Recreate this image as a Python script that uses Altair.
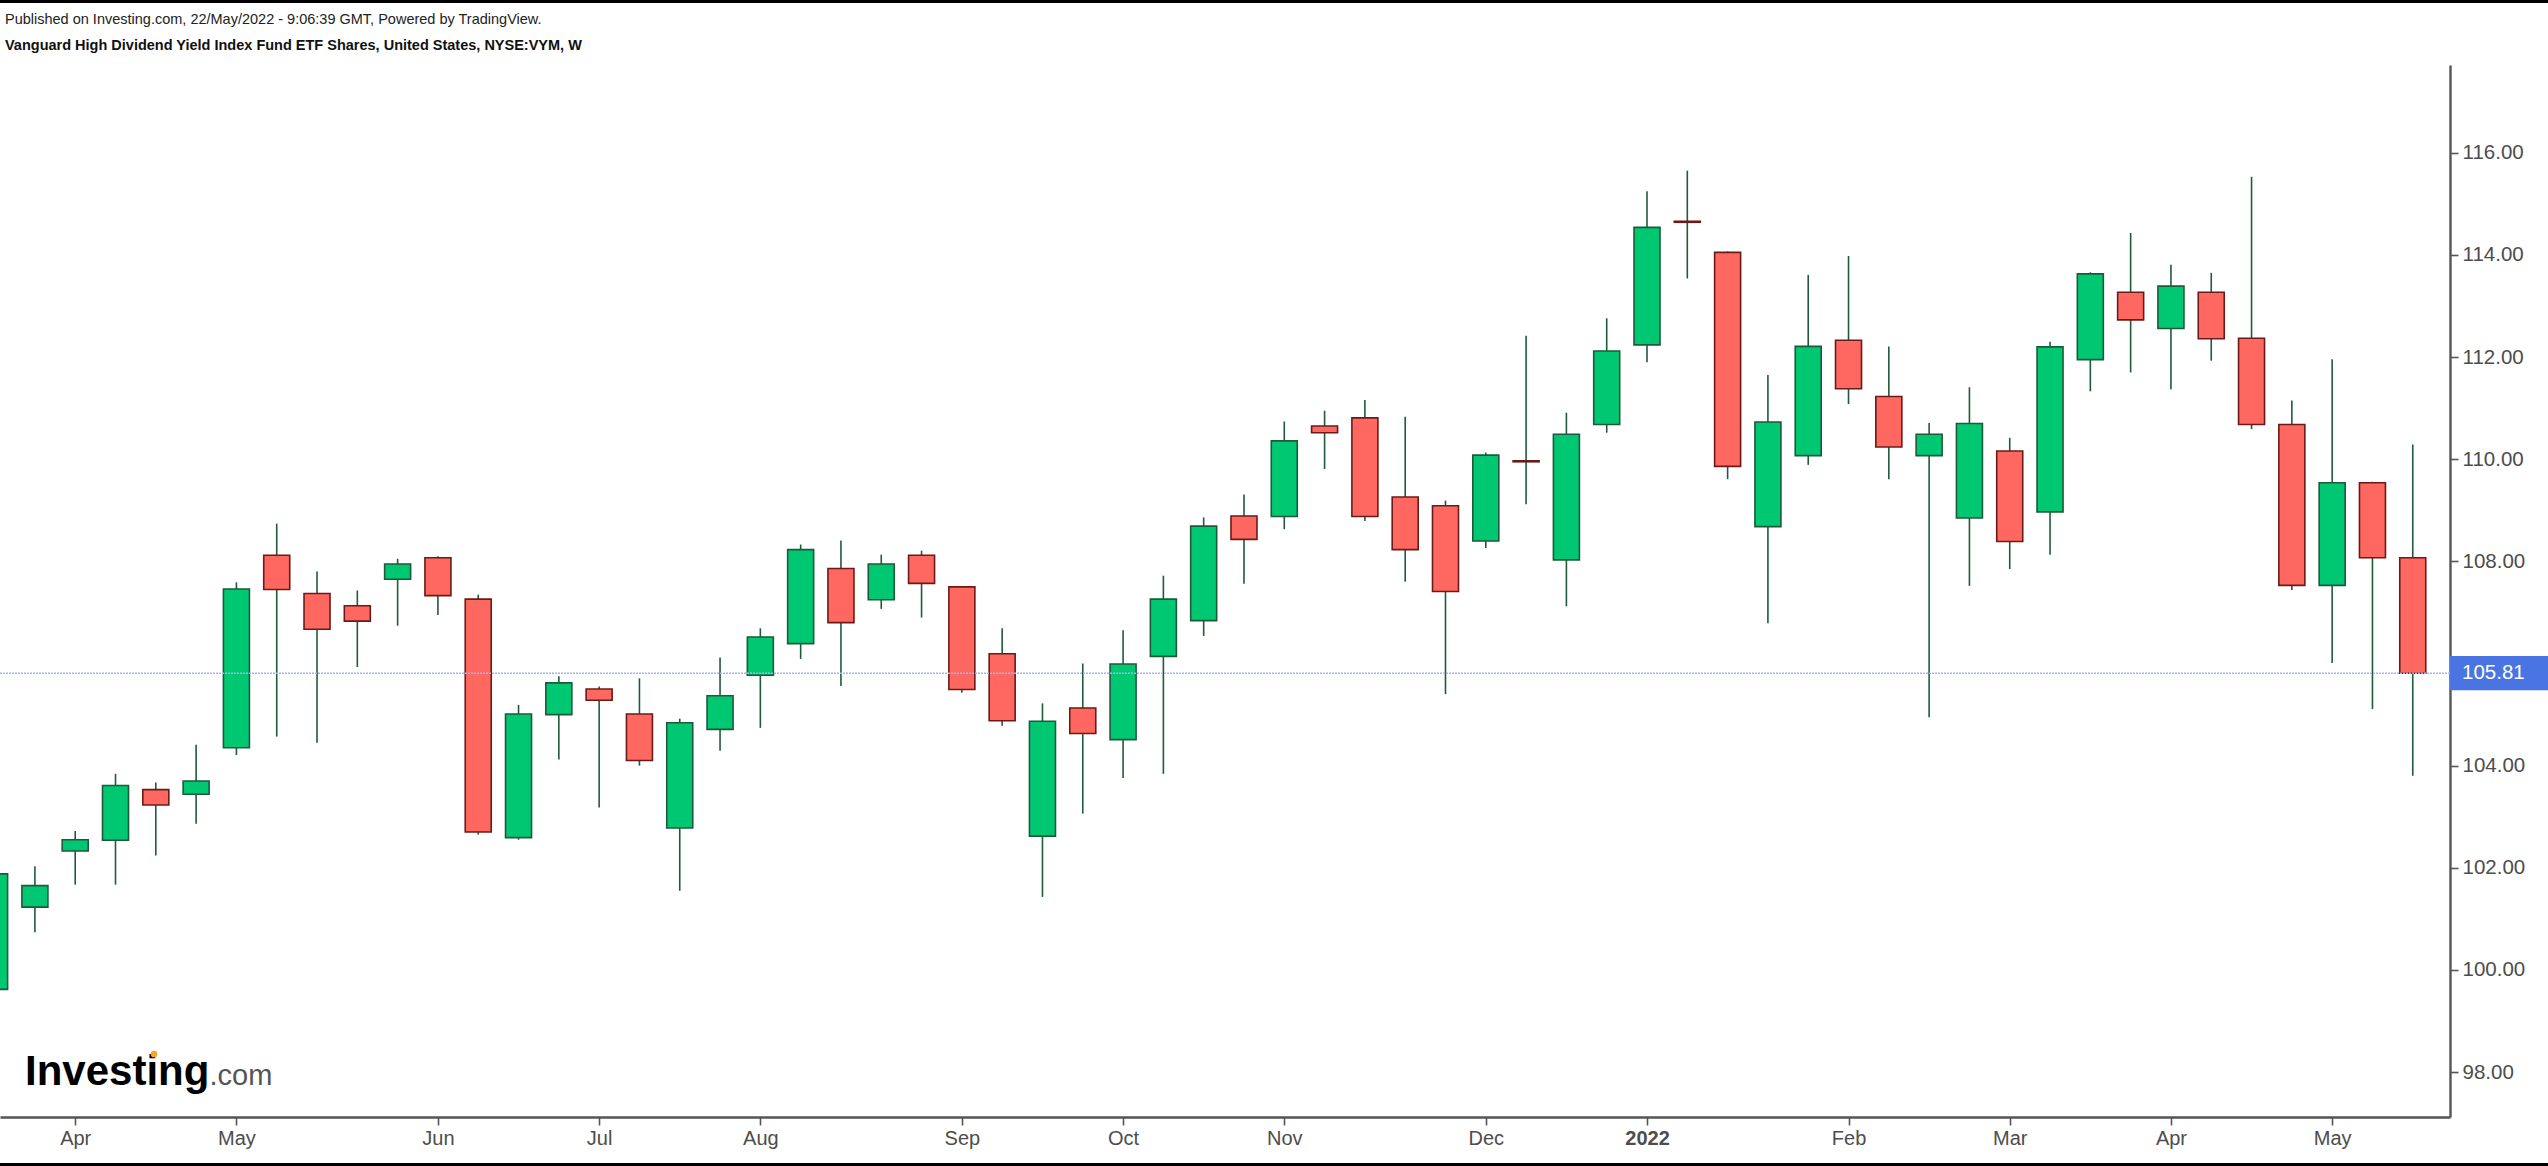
import altair as alt
import pandas as pd

# ---------------- data (weekly OHLC) ----------------
week_start = "2021-03-22"
opens = [99.62, 101.23, 102.33, 102.54, 103.53, 103.44, 104.35, 108.12, 107.37, 107.13,
         107.65, 108.07, 107.26, 102.59, 105.00, 105.50, 105.01, 102.78, 104.71, 105.77,
         106.39, 107.86, 107.25, 108.12, 107.50, 106.19, 102.62, 105.13, 104.51, 106.14,
         106.84, 108.89, 108.88, 110.65, 110.81, 109.26, 109.09, 108.40, 109.97, 108.03,
         110.68, 112.24, 114.66, 114.05, 108.68, 110.07, 112.33, 111.23, 110.07, 108.85,
         110.16, 108.97, 111.95, 113.27, 112.56, 113.27, 112.37, 110.68, 107.53, 109.54,
         108.07]
highs = [101.95, 102.03, 102.72, 103.84, 103.67, 104.41, 107.59, 108.74, 107.80, 107.43,
         108.05, 108.10, 107.35, 105.19, 105.75, 105.55, 105.71, 104.92, 106.12, 106.69,
         108.33, 108.41, 108.13, 108.21, 107.52, 106.69, 105.22, 106.00, 106.65, 107.72,
         108.86, 109.31, 110.74, 110.95, 111.16, 110.83, 109.19, 110.13, 112.42, 110.91,
         112.76, 115.25, 115.65, 114.07, 111.65, 113.61, 113.98, 112.21, 110.71, 111.41,
         110.42, 112.30, 113.66, 114.43, 113.81, 113.65, 115.53, 111.15, 111.96, 109.56,
         110.29]
lows = [99.55, 100.74, 101.67, 101.67, 102.24, 102.86, 104.21, 104.57, 104.45, 105.93,
        106.74, 106.95, 102.65, 102.55, 104.12, 103.18, 104.00, 101.55, 104.29, 104.74,
        106.09, 105.56, 107.07, 106.90, 105.43, 104.78, 101.43, 103.06, 103.76, 103.84,
        106.54, 107.56, 108.63, 109.81, 108.79, 107.60, 105.40, 108.26, 109.12, 107.12,
        110.52, 111.90, 113.54, 109.61, 106.79, 109.89, 111.08, 109.61, 104.95, 107.52,
        107.85, 108.13, 111.33, 111.70, 111.37, 111.93, 110.59, 107.44, 106.01, 105.11,
        103.80]
closes = [101.88, 101.65, 102.55, 103.61, 103.23, 103.70, 107.46, 107.45, 106.67, 106.83,
          107.95, 107.33, 102.70, 105.01, 105.62, 105.28, 104.10, 104.84, 105.37, 106.52,
          108.23, 106.80, 107.95, 107.57, 105.49, 104.88, 104.87, 104.63, 105.99, 107.26,
          108.69, 108.43, 110.36, 110.52, 108.88, 108.23, 107.41, 110.08, 109.95, 110.49,
          112.12, 114.54, 114.64, 109.86, 110.73, 112.21, 111.38, 110.24, 110.49, 110.70,
          108.39, 112.20, 113.63, 112.73, 113.39, 112.36, 110.68, 107.53, 109.54, 108.07,
          105.81]

tick_weeks = ["2021-04-05", "2021-05-03", "2021-06-07", "2021-07-05", "2021-08-02",
              "2021-09-06", "2021-10-04", "2021-11-01", "2021-12-06", "2022-01-03",
              "2022-02-07", "2022-03-07", "2022-04-04", "2022-05-02"]
tick_labels = ["Apr", "May", "Jun", "Jul", "Aug", "Sep", "Oct", "Nov", "Dec", "2022",
               "Feb", "Mar", "Apr", "May"]
y_ticks = [98, 100, 102, 104, 106, 108, 110, 112, 114, 116]
last_price = 105.81

title_line1 = "Published on Investing.com, 22/May/2022 - 9:06:39 GMT, Powered by TradingView."
title_line2 = "Vanguard High Dividend Yield Index Fund ETF Shares, United States, NYSE:VYM, W"

# ---------------- build tables ----------------
base = pd.Timestamp(week_start)
weeks = pd.date_range(week_start, periods=len(opens), freq="7D")
idx = [(w - base).days // 7 for w in weeks]
tick_idx = [(pd.Timestamp(t) - base).days // 7 for t in tick_weeks]

df = pd.DataFrame({
    "i": idx,
    "week": weeks.strftime("%Y-%m-%d"),
    "open": opens, "high": highs, "low": lows, "close": closes,
})
df["dir"] = ["up" if c >= o else "down" for o, c in zip(opens, closes)]

label_expr = "".join(f"datum.value == {t} ? '{l}' : " for t, l in zip(tick_idx, tick_labels)) + "''"
bold_test = f"datum.value == {tick_idx[tick_labels.index('2022')]}"
# the 106.00 label sits under the last-price box, as in the reference
y_label_expr = f"abs(datum.value - {last_price}) < 0.5 ? '' : format(datum.value, '.2f')"

FONT = "Liberation Sans"
AX_COL = "#555555"

x_scale = alt.Scale(domain=[0.258, 60.8], nice=False, zero=False)
y_scale = alt.Scale(domain=[97.12, 117.72], nice=False, zero=False)

x_axis = alt.Axis(values=tick_idx, labelExpr=label_expr, title=None, grid=False,
                  domainColor=AX_COL, domainWidth=2.4, tickColor=AX_COL, tickWidth=1.6,
                  tickSize=8, labelFontSize=20, labelColor="#4d4d4d", labelFont=FONT,
                  labelPadding=3, labelFlush=False, labelOverlap=False,
                  labelFontWeight={"condition": {"test": bold_test, "value": "bold"},
                                   "value": "normal"})
y_axis = alt.Axis(orient="right", values=y_ticks, labelExpr=y_label_expr, title=None, grid=False,
                  domainColor=AX_COL, domainWidth=2.4, tickColor=AX_COL, tickWidth=1.6,
                  tickSize=8, labelFontSize=20.5, labelColor="#4d4d4d", labelFont=FONT,
                  labelPadding=4, labelFlush=False, labelOverlap=False)

X = alt.X("i:Q", scale=x_scale, axis=x_axis)

wicks = alt.Chart(df).mark_rule(color="#1f5b3b", strokeWidth=1.6, clip=True).encode(
    x=X,
    y=alt.Y("low:Q", scale=y_scale, axis=y_axis),
    y2="high:Q",
)

bodies = alt.Chart(df).mark_bar(size=26, strokeWidth=1.6, clip=True).encode(
    x=X,
    y=alt.Y("open:Q", scale=y_scale, axis=y_axis),
    y2="close:Q",
    fill=alt.Fill("dir:N", scale=alt.Scale(domain=["up", "down"], range=["#00c872", "#ff6860"]), legend=None),
    stroke=alt.Stroke("dir:N", scale=alt.Scale(domain=["up", "down"], range=["#1c5a39", "#6b1b17"]), legend=None),
)

price_df = pd.DataFrame({"price": [last_price], "label": [f"{last_price:.2f}"]})

price_line = alt.Chart(price_df).mark_rule(color="#a3b4f2", strokeWidth=1.6, strokeDash=[2, 1]).encode(
    x=alt.value(0), x2=alt.value(2450),
    y=alt.Y("price:Q", scale=y_scale, axis=y_axis),
)

price_box = alt.Chart(price_df).transform_calculate(
    top="datum.price + 0.335", bot="datum.price - 0.335"
).mark_rect(color="#4a74e2").encode(
    x=alt.value(2450), x2=alt.value(2548),
    y=alt.Y("top:Q", scale=y_scale, axis=y_axis),
    y2="bot:Q",
)

price_text = alt.Chart(price_df).mark_text(
    align="left", baseline="middle", color="white", fontSize=20.5, font=FONT
).encode(
    x=alt.value(2462),
    y=alt.Y("price:Q", scale=y_scale, axis=y_axis),
    text="label:N",
)

one = pd.DataFrame({"k": [0]})

def label(text, x, y, size, weight="normal", color="#222222", baseline="middle"):
    return alt.Chart(one).mark_text(
        text=text, align="left", baseline=baseline, fontSize=size, fontWeight=weight,
        color=color, font=FONT,
    ).encode(x=alt.value(x), y=alt.value(y))

t1 = label(title_line1, 5, -45.5, 14.5, color="#222222")
t2 = label(title_line2, 5, -19.5, 14.5, weight="bold", color="#111111")
logo1 = label("Investing", 25, 1020, 42, weight="bold", color="#000000", baseline="alphabetic")
logo2 = label(".com", 209.5, 1020, 29, color="#555555", baseline="alphabetic")
logo_dot = alt.Chart(one).mark_point(filled=True, shape="circle", size=45, color="#f6a623", opacity=1).encode(
    x=alt.value(154), y=alt.value(989)
)

top_border = alt.Chart(one).mark_rule(color="#000000", strokeWidth=3).encode(
    x=alt.value(0), x2=alt.value(2548), y=alt.value(-63.5)
)
bottom_border = alt.Chart(one).mark_rule(color="#000000", strokeWidth=3).encode(
    x=alt.value(0), x2=alt.value(2548), y=alt.value(1099.5)
)

chart = alt.layer(
    wicks, bodies, price_line, price_box, price_text,
    t1, t2, logo1, logo2, logo_dot, top_border, bottom_border,
).properties(
    width=2450, height=1052,
    padding={"left": 0, "top": 65, "right": 98, "bottom": 49},
    autosize="none",
    background="white",
).configure_view(stroke=None)

chart.save("out.html", embed_options={"renderer": "svg", "actions": False})
